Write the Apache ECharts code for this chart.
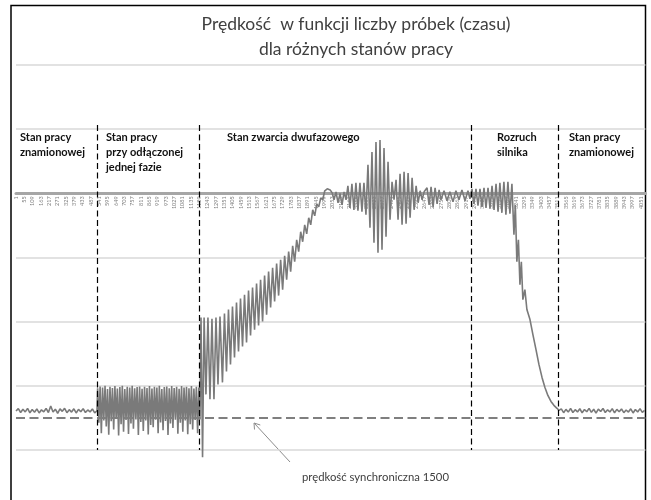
<!DOCTYPE html>
<html>
<head>
<meta charset="utf-8">
<script src="https://cdn.jsdelivr.net/npm/echarts@6/dist/echarts.min.js"></script>
<style>
  html, body { margin: 0; padding: 0; background: #fff; }
  #chart { width: 651px; height: 500px; }
</style>
</head>
<body>
<div id="chart"></div>
<script>
// liczba próbek na osi kategorii (etykiety co 54: 1, 55, 109 ... 4051)
const sampleCount = 4080
const labelStep = 54
const samples = Array.from({ length: sampleCount }, (_, i) => String(i + 1))

// prędkość synchroniczna i granice stanów pracy (nr próbki)
const syncSpeed = 1500
const sectionBounds = [526, 1189, 2949, 3513]

// [nr próbki, prędkość obr/min]
const ratedStart = [
  [1, 1452], [16, 1436], [31, 1462], [46, 1440], [61, 1458], [76, 1434], [91, 1464], [106, 1442],
  [121, 1460], [136, 1438], [151, 1465], [166, 1444], [181, 1457], [196, 1435], [211, 1462], [226, 1418],
  [241, 1459], [256, 1440], [271, 1467], [286, 1438], [301, 1454], [316, 1434], [331, 1463], [346, 1443],
  [361, 1459], [376, 1437], [391, 1465], [406, 1441], [421, 1457], [436, 1436], [451, 1462], [466, 1445],
  [481, 1458], [496, 1438], [511, 1464], [526, 1450],
]
const phaseLoss = [
  [530, 1300], [538, 1530], [546, 1288], [554, 1600], [562, 1296], [570, 1515], [578, 1284], [586, 1555],
  [594, 1305], [602, 1610], [610, 1290], [618, 1520], [626, 1298], [634, 1575], [642, 1286], [650, 1505],
  [658, 1302], [666, 1615], [674, 1292], [682, 1540], [690, 1284], [698, 1590], [706, 1306], [714, 1512],
  [722, 1290], [730, 1605], [738, 1296], [746, 1535], [754, 1283], [762, 1570], [770, 1300], [778, 1508],
  [786, 1292], [794, 1612], [802, 1288], [810, 1525], [818, 1304], [826, 1585], [834, 1290], [842, 1515],
  [850, 1298], [858, 1608], [866, 1285], [874, 1545], [882, 1302], [890, 1560], [898, 1290], [906, 1510],
  [914, 1296], [922, 1600], [930, 1284], [938, 1528], [946, 1306], [954, 1580], [962, 1292], [970, 1518],
  [978, 1288], [986, 1612], [994, 1300], [1002, 1535], [1010, 1286], [1018, 1565], [1026, 1298], [1034, 1510],
  [1042, 1290], [1050, 1604], [1058, 1304], [1066, 1530], [1074, 1286], [1082, 1590], [1090, 1296], [1098, 1515],
  [1106, 1290], [1114, 1606], [1122, 1300], [1130, 1540], [1138, 1285], [1146, 1575], [1154, 1302], [1162, 1512],
  [1170, 1290], [1178, 1600], [1186, 1296],
]
const shortCircuit = [
  [1193, 1508], [1200, 829], [1210, 1760], [1220, 829], [1232, 1341], [1245, 829], [1258, 1374], [1271, 836],
  [1284, 1374], [1297, 829], [1310, 1275], [1323, 822], [1339, 1261], [1352, 802], [1365, 1188], [1378, 775],
  [1391, 1141], [1404, 755], [1417, 1095], [1430, 729], [1443, 1055], [1456, 702], [1469, 1022], [1482, 676],
  [1495, 995], [1508, 649], [1521, 948], [1534, 629], [1547, 909], [1560, 602], [1573, 882], [1586, 576],
  [1599, 855], [1612, 549], [1625, 809], [1638, 522], [1651, 762], [1664, 496], [1677, 722], [1690, 469],
  [1703, 682], [1716, 443], [1729, 642], [1742, 416], [1755, 576], [1768, 389], [1781, 522], [1794, 350],
  [1807, 456], [1820, 310], [1833, 389], [1846, 256], [1859, 323], [1872, 210], [1885, 270], [1898, 163],
  [1911, 210], [1924, 110], [1937, 150], [1950, 70], [1963, 90], [1976, 30], [1989, 43], [2002, -17],
  [2018, -30], [2037, -23], [2050, -3], [2062, 43], [2075, -10], [2088, 63], [2101, 0], [2114, 77],
  [2127, -10], [2140, 43], [2152, -50], [2165, 97], [2178, -63], [2191, 110], [2204, -70], [2217, 116],
  [2230, -70], [2243, 123], [2256, -70], [2269, 143], [2282, -190], [2295, 230], [2308, -276], [2321, 329],
  [2334, -343], [2347, 396], [2360, -356], [2373, 376], [2386, -303], [2399, 290], [2412, -210], [2425, 176],
  [2438, -77], [2451, 43], [2464, -90], [2477, 176], [2490, -130], [2503, 210], [2516, -143], [2529, 203],
  [2542, -136], [2555, 163], [2568, -103], [2581, 110], [2594, -50], [2607, 63], [2620, -17], [2633, 43],
  [2646, -10], [2665, -37], [2678, 77], [2691, -43], [2704, 90], [2717, -37], [2730, 70], [2743, -23],
  [2755, 43], [2775, -17], [2794, 50], [2813, -10], [2833, 57], [2852, -17], [2872, 43], [2891, -23],
  [2911, 50], [2930, -17], [2943, 37],
]
const startUp = [
  [2956, -30], [2969, 70], [2982, -30], [2995, 83], [3008, -30], [3021, 90], [3034, -37], [3047, 97],
  [3060, -37], [3073, 103], [3086, -50], [3099, 110], [3112, -63], [3125, 123], [3137, -70], [3150, 130],
  [3163, -77], [3176, 143], [3189, -77], [3202, 136], [3215, -63], [3228, 276], [3237, 77], [3247, 456],
  [3257, 310], [3267, 609], [3276, 456], [3286, 709], [3299, 642], [3312, 775], [3332, 842], [3351, 942],
  [3371, 1042], [3390, 1141], [3410, 1228], [3429, 1295], [3448, 1348], [3468, 1388], [3487, 1414], [3507, 1434],
  [3520, 1448],
]
const ratedEnd = [
  [3535, 1438], [3550, 1463], [3565, 1441], [3580, 1459], [3595, 1435], [3610, 1462], [3625, 1443], [3640, 1458],
  [3655, 1437], [3670, 1464], [3685, 1442], [3700, 1457], [3715, 1434], [3730, 1461], [3745, 1440], [3760, 1466],
  [3775, 1439], [3790, 1455], [3805, 1435], [3820, 1462], [3835, 1444], [3850, 1458], [3865, 1436], [3880, 1464],
  [3895, 1441], [3910, 1457], [3925, 1438], [3940, 1463], [3955, 1445], [3970, 1459], [3985, 1437], [4000, 1465],
  [4015, 1442], [4030, 1458], [4045, 1436], [4060, 1461], [4075, 1448],
]

// podpisy stanów pracy
const sectionLabels = [
  { text: 'Stan pracy\nznamionowej', x: 20 },
  { text: 'Stan pracy\nprzy odłączonej\njednej fazie', x: 106 },
  { text: 'Stan zwarcia dwufazowego', x: 227 },
  { text: 'Rozruch\nsilnika', x: 497 },
  { text: 'Stan pracy\nznamionowej', x: 569 },
]

const speedData = [...ratedStart, ...phaseLoss, ...shortCircuit, ...startUp, ...ratedEnd]
  .map(p => [p[0] - 1, p[1]])

const chart = echarts.init(document.getElementById('chart'))
const font = 'Lato, "Open Sans", sans-serif'

// oś kategorii przesunięta na poziom zera (0 obr/min)
const gridTop = 65
const gridHeight = 385
const yMin = -856
const yMax = 1712
const zeroOffset = gridHeight * yMax / (yMax - yMin)

chart.setOption({
  animation: false,
  backgroundColor: '#fff',
  title: {
    text: 'Prędkość  w funkcji liczby próbek (czasu)\ndla różnych stanów pracy',
    left: 351,
    top: 7,
    textAlign: 'center',
    textStyle: { fontFamily: font, fontSize: 17.5, fontWeight: 'normal', color: '#404040', lineHeight: 25 },
  },
  grid: { left: 16, right: 5.6, top: gridTop, height: gridHeight },
  xAxis: {
    type: 'category',
    data: samples,
    boundaryGap: false,
    offset: -zeroOffset,
    axisLine: { onZero: false, lineStyle: { color: '#a6a6a6', width: 3 } },
    axisTick: { show: false },
    axisLabel: {
      interval: labelStep - 1,
      rotate: 90,
      fontSize: 5.5,
      color: '#7f7f7f',
      margin: 3,
      fontFamily: font,
    },
    splitLine: { show: false },
  },
  yAxis: {
    type: 'value',
    inverse: true,
    min: yMin,
    max: yMax,
    interval: 428,
    axisLine: { show: false },
    axisTick: { show: false },
    axisLabel: { show: false },
    splitLine: { lineStyle: { color: '#d9d9d9', width: 1.5 } },
  },
  series: [
    {
      type: 'line',
      data: speedData,
      symbol: 'none',
      clip: false,
      z: 3,
      lineStyle: { color: '#7a7a7a', width: 1.6 },
      markLine: {
        silent: true,
        symbol: 'none',
        label: { show: false },
        lineStyle: { color: '#000', type: [6, 3.5], width: 1.2 },
        data: [
          { yAxis: syncSpeed, lineStyle: { color: '#7f7f7f', type: [9, 4.5], width: 2 } },
          ...sectionBounds.map(s => [{ coord: [s - 1, -456] }, { coord: [s - 1, yMax] }]),
        ],
      },
    },
  ],
  graphic: [
    {
      type: 'rect',
      shape: { x: 11, y: 5.5, width: 634.5, height: 510 },
      style: { fill: 'none', stroke: '#000', lineWidth: 1.5 },
    },
    ...sectionLabels.map(l => ({
      type: 'text',
      x: l.x,
      y: 130,
      style: {
        text: l.text,
        font: 'bold 11px ' + font,
        fill: '#111',
        lineHeight: 15,
        verticalAlign: 'top',
      },
    })),
    {
      type: 'text',
      x: 302,
      y: 477,
      style: {
        text: 'prędkość synchroniczna 1500',
        font: '11.3px ' + font,
        fill: '#404040',
        verticalAlign: 'middle',
      },
    },
    {
      type: 'line',
      shape: { x1: 290, y1: 462, x2: 254.5, y2: 423.5 },
      style: { stroke: '#8c8c8c', lineWidth: 1 },
    },
    {
      type: 'polyline',
      shape: { points: [[254.5, 429.5], [254, 423], [260.3, 425]] },
      style: { stroke: '#8c8c8c', lineWidth: 1, fill: 'none' },
    },
  ],
})
</script>
</body>
</html>
